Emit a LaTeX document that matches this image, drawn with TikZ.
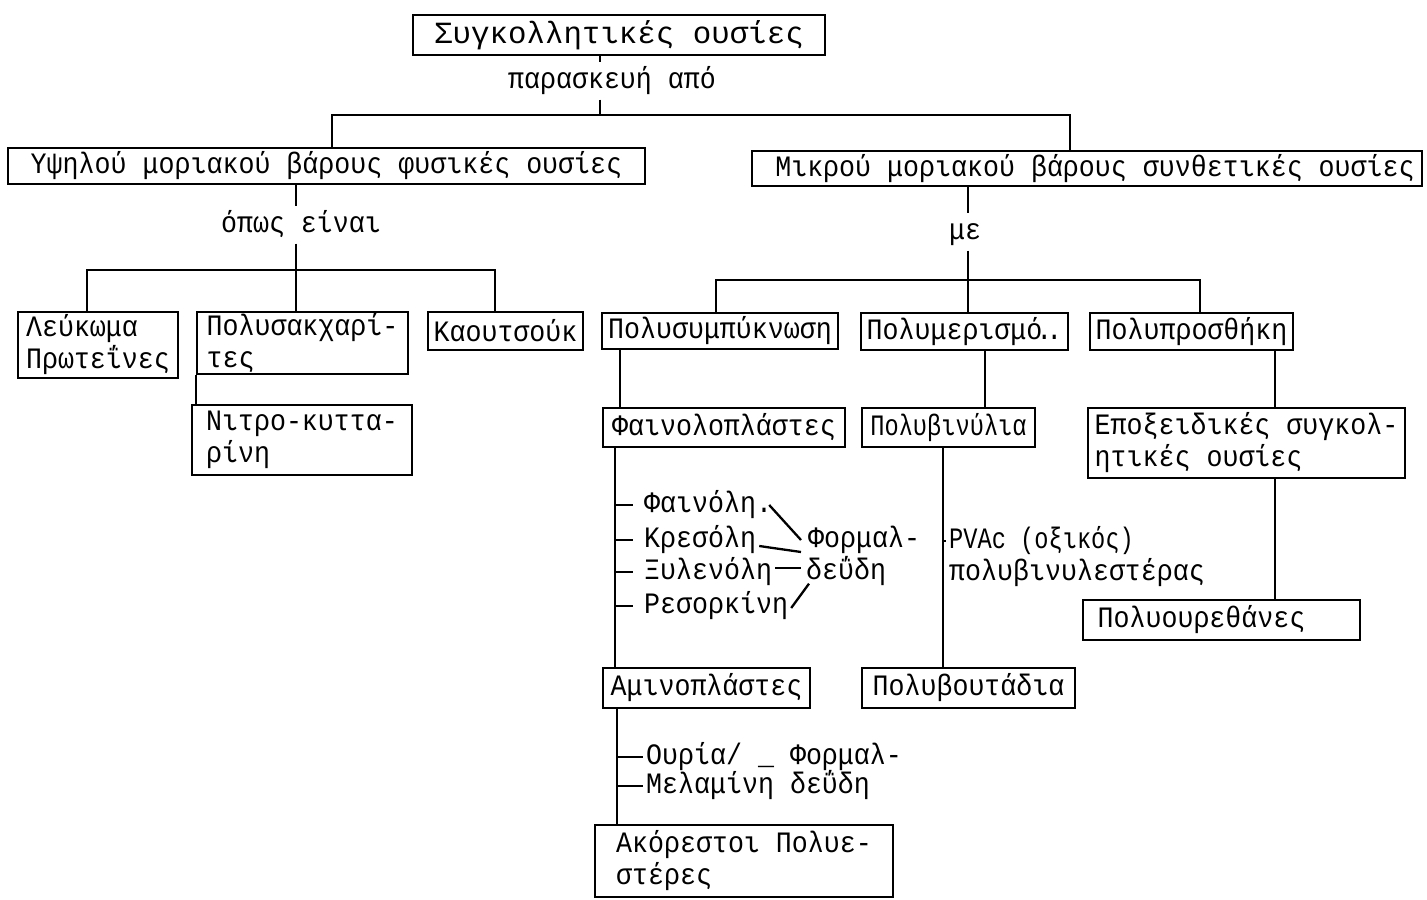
\documentclass[tikz,border=0pt]{standalone}
\usepackage{fontspec}
\newfontfamily\tw[FakeStretch=0.9]{Liberation Mono}
\newfontfamily\twn[FakeStretch=0.8]{Liberation Mono}
\newfontfamily\twt{Liberation Mono}
\begin{document}
\begin{tikzpicture}[x=0.5pt,y=-0.5pt,
  line width=1.15pt,
  every node/.style={inner sep=0pt},
  tt/.style={font=\tw\fontsize{14.8pt}{16pt}\selectfont},
  box/.style n args={2}{draw, tt, align=left, minimum width=#1*0.5pt, minimum height=#2*0.5pt},
  lab/.style={tt, text height=11pt, text depth=3.5pt, inner ysep=1.5pt},
  item/.style={tt, anchor=west, inner xsep=1pt, text height=11pt, text depth=3.5pt}]
\useasboundingbox (0,0) rectangle (1427,899);

% top level
\node[box={412}{40}, font=\twt\fontsize{15.4pt}{17pt}\selectfont] (T) at (619,35) {Συγκολλητικές ουσίες};
\node[lab] (l1) at (612,81) {παρασκευή από};
\node[box={637}{36}] (L) at (326.5,166) {Υψηλού μοριακού βάρους φυσικές ουσίες};
\node[box={670}{35}] (R) at (1087,168.5) {\hspace*{8pt}Μικρού μοριακού βάρους συνθετικές ουσίες};
\node[lab] (l2) at (301,225) {όπως είναι};
\node[lab] (l3) at (965,232) {με};

% natural substances
\node[box={160}{66}] (A1) at (98,345) {Λεύκωμα\\Πρωτεΐνες};
\node[box={211}{62}] (A2) at (302.5,343) {Πολυσακχαρί-\\τες};
\node[box={155}{38}] (A3) at (505.5,331) {Καουτσούκ};
\node[box={220}{70}] (A4) at (302,440) {Νιτρο-κυττα-\\ρίνη};

% synthetic substances
\node[box={236}{36}] (B1) at (720,331) {Πολυσυμπύκνωση};
\node[box={207}{37}] (B2) at (964.5,331.5) {Πολυμερισμό\kern-3pt.\kern-3pt.};
\node[box={203}{37}] (B3) at (1191.5,331.5) {Πολυπροσθήκη};
\node[box={242}{39}] (C1) at (724,427.5) {Φαινολοπλάστες};
\node[box={173}{39}, font=\twn\fontsize{14.8pt}{16pt}\selectfont] (C2) at (948.5,427.5) {Πολυβινύλια};
\node[box={317}{70}] (C3) at (1246.5,443) {Εποξειδικές συγκολ-\\ητικές ουσίες};
\node[box={207}{40}] (C4) at (706.5,688) {Αμινοπλάστες};
\node[box={298}{72}] (C5) at (744,861) {Ακόρεστοι Πολυε-\\στέρες};
\node[box={213}{40}] (D1) at (968.5,688) {Πολυβουτάδια};
\node[box={277}{40}] (D2) at (1221.5,620) {Πολυουρεθάνες\hspace*{20pt}};

% phenol list
\node[item] (t1) at (641,505) {Φαινόλη.};
\node[item] (t2) at (641,540) {Κρεσόλη};
\node[item] (t3) at (641,572) {Ξυλενόλη};
\node[item] (t4) at (641,606) {Ρεσορκίνη};
\node[item] (f1) at (805,540) {Φορμαλ-};
\node[item] (f2) at (803,572) {δεΰδη};

% amino list
\node[item] (u1) at (643,757) {Ουρία/ \_ Φορμαλ-};
\node[item] (u2) at (643,786) {Μελαμίνη δεΰδη};

% polyvinyl list
\node[item, font=\twn\fontsize{14.8pt}{16pt}\selectfont] (p1) at (946,541) {PVAc (οξικός)};
\node[item] (p2) at (946,573) {πολυβινυλεστέρας};

% junction points
\coordinate (j0) at (600,115);
\coordinate (jL) at (332,115);
\coordinate (jR) at (1070,115);
\coordinate (k0) at (296,270);
\coordinate (kA) at (87,270);
\coordinate (kC) at (495,270);
\coordinate (m0) at (968,280);
\coordinate (mA) at (716,280);
\coordinate (mC) at (1200,280);
\coordinate (vB1) at (620,0);
\coordinate (vA) at (615,0);
\coordinate (vA2) at (617,0);
\coordinate (vP) at (985,0);
\coordinate (vQ) at (943,0);
\coordinate (vR) at (1275,0);

% trunk
\draw (j0 |- T.south) -- (j0 |- l1.north);
\draw (j0 |- l1.south) -- (j0);
\draw (jL |- L.north) -- (jL) -- (jR) -- (jR |- R.north);

% natural branch
\draw (k0 |- L.south) -- (k0 |- l2.north);
\draw (k0 |- l2.south) -- (k0);
\draw (kA |- A1.north) -- (kA) -- (kC) -- (kC |- A3.north);
\draw (k0) -- (k0 |- A2.north);
\draw (A2.south west) -- (A2.south west |- A4.north);

% synthetic branch
\draw (m0 |- R.south) -- (m0 |- l3.north);
\draw (m0 |- l3.south) -- (m0);
\draw (mA |- B1.north) -- (mA) -- (mC) -- (mC |- B3.north);
\draw (m0) -- (m0 |- B2.north);
\draw (vB1 |- B1.south) -- (vB1 |- C1.north);
\draw (vP |- B2.south) -- (vP |- C2.north);
\draw (vR |- B3.south) -- (vR |- C3.north);
\draw (vA |- C1.south) -- (vA |- C4.north);
\draw (vA2 |- C4.south) -- (vA2 |- C5.north);
\draw (vQ |- C2.south) -- (vQ |- D1.north);
\draw (vR |- C3.south) -- (vR |- D2.north);

% phenol ties
\foreach \t in {t1,t2,t3,t4} \draw (vA |- \t.west) -- ([xshift=-4pt]\t.west);
\draw ([xshift=-3pt]t1.east) -- ([xshift=-2pt]f1.west);
\draw ([yshift=-3pt]t2.east) -- ([xshift=-2pt,yshift=-6pt]f1.west);
\draw ([yshift=2pt]t3.east) -- ([xshift=-1pt,yshift=2pt]f2.west);
\draw ([yshift=-1pt]t4.east) -- ([xshift=3pt,yshift=2pt]f2.south west);

% amino ties
\draw (vA2 |- u1.west) -- (u1.west);
\draw (vA2 |- u2.west) -- (u2.west);

% polyvinyl tie
\draw (vQ |- p1.west) -- (p1.west);
\end{tikzpicture}
\end{document}
